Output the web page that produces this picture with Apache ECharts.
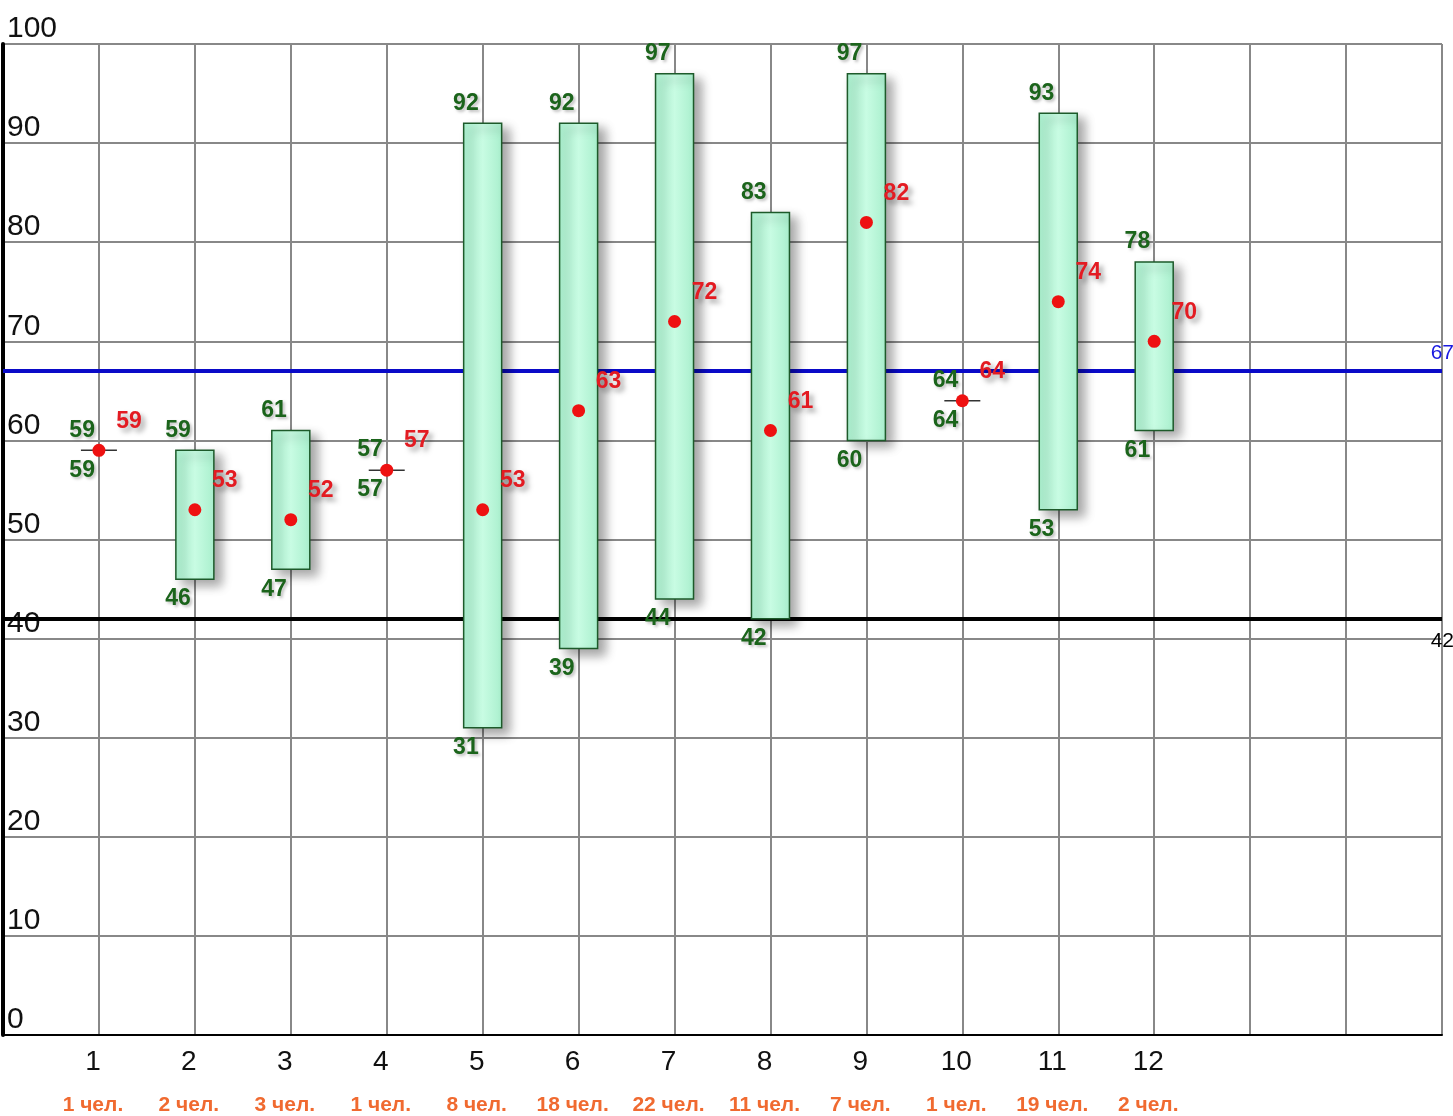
<!DOCTYPE html>
<html>
<head>
<meta charset="utf-8">
<script src="https://cdn.jsdelivr.net/npm/echarts@6/dist/echarts.min.js"></script>
<style>
html,body{margin:0;padding:0;background:#fff;}
#chart{width:1453px;height:1116px;}
</style>
</head>
<body>
<div id="chart"></div>
<script>
// ---- data ----
const categories = [1, 2, 3, 4, 5, 6, 7, 8, 9, 10, 11, 12];
const counts = [1, 2, 3, 1, 8, 18, 22, 11, 7, 1, 19, 2];
const minVals = [59, 46, 47, 57, 31, 39, 44, 42, 60, 64, 53, 61];
const maxVals = [59, 59, 61, 57, 92, 92, 97, 83, 97, 64, 93, 78];
const meanVals = [59, 53, 52, 57, 53, 63, 72, 61, 82, 64, 74, 70];
const upperLine = 67;
const lowerLine = 42;
const countSuffix = ' чел.';

const FONT = '"Liberation Sans", Arial, sans-serif';

const boxData = categories.map((c, i) => [c, minVals[i], maxVals[i], meanVals[i]]);

function renderItem(params, api) {
  const x = api.value(0), lo = api.value(1), hi = api.value(2), mean = api.value(3);
  const pHi = api.coord([x, hi]);
  const pLo = api.coord([x, lo]);
  const pM = api.coord([x, mean]);
  const w = 38;
  const children = [];
  if (hi > lo) {
    children.push({
      type: 'rect',
      shape: { x: pHi[0] - w / 2, y: pHi[1], width: w, height: pLo[1] - pHi[1] },
      style: {
        fill: new echarts.graphic.LinearGradient(0, 0, 1, 0, [
          { offset: 0, color: '#a9efcd' },
          { offset: 0.5, color: '#c8fce3' },
          { offset: 1, color: '#a9efcd' }
        ]),
        stroke: '#1d5a2a',
        lineWidth: 1.5,
        shadowBlur: 10,
        shadowColor: 'rgba(0,0,0,0.35)',
        shadowOffsetX: 7,
        shadowOffsetY: 6
      }
    });
  } else {
    children.push({
      type: 'line',
      shape: { x1: pM[0] - 18, y1: pM[1], x2: pM[0] + 18, y2: pM[1] },
      style: { stroke: '#333', lineWidth: 1.5 }
    });
  }
  children.push({
    type: 'circle',
    shape: { cx: pM[0], cy: pM[1], r: 6.5 },
    style: { fill: '#ee1111' }
  });
  const greenStyle = {
    fill: '#1b641b',
    font: 'bold 23px ' + FONT,
    align: 'right',
    verticalAlign: 'middle',
    textShadowColor: 'rgba(0,0,0,0.25)',
    textShadowBlur: 3,
    textShadowOffsetX: 2,
    textShadowOffsetY: 2
  };
  children.push({
    type: 'text',
    x: pHi[0] - 4,
    y: pHi[1] - 20,
    style: Object.assign({ text: String(hi) }, greenStyle)
  });
  children.push({
    type: 'text',
    x: pLo[0] - 4,
    y: pLo[1] + 20,
    style: Object.assign({ text: String(lo) }, greenStyle)
  });
  children.push({
    type: 'text',
    x: pM[0] + 30,
    y: pM[1] - 29,
    style: {
      text: String(mean),
      fill: '#e31b22',
      font: 'bold 23px ' + FONT,
      align: 'center',
      verticalAlign: 'middle',
      textShadowColor: 'rgba(0,0,0,0.35)',
      textShadowBlur: 5,
      textShadowOffsetX: 4,
      textShadowOffsetY: 4
    }
  });
  return { type: 'group', children: children };
}

const chart = echarts.init(document.getElementById('chart'), null, { renderer: 'canvas' });
chart.setOption({
  animation: false,
  backgroundColor: '#ffffff',
  grid: { left: 3, right: 11, top: 44, bottom: 81, containLabel: false },
  xAxis: {
    type: 'value',
    min: 0,
    max: 15,
    interval: 1,
    axisLine: { show: true, onZero: false, lineStyle: { color: '#000', width: 2 } },
    axisTick: { show: false },
    splitLine: { show: true, lineStyle: { color: '#888888', width: 2 } },
    axisLabel: {
      margin: 7,
      formatter: function (v) {
        const i = categories.indexOf(v);
        if (i < 0) return '';
        return '{n|' + categories[i] + '}\n{c|' + counts[i] + countSuffix + '}';
      },
      rich: {
        n: { fontSize: 28, fontFamily: FONT, color: '#111', lineHeight: 40, padding: [0, 12, 0, 0] },
        c: { fontSize: 21, fontFamily: FONT, fontWeight: 'bold', color: '#f06a30', lineHeight: 46, padding: [0, 12, 0, 0] }
      }
    }
  },
  yAxis: {
    type: 'value',
    min: 0,
    max: 100,
    interval: 10,
    axisLine: { show: true, lineStyle: { color: '#000', width: 4 } },
    axisTick: { show: false },
    splitLine: { show: true, lineStyle: { color: '#888888', width: 2 } },
    axisLabel: {
      inside: true,
      margin: 4,
      align: 'left',
      verticalAlign: 'bottom',
      fontSize: 30,
      fontFamily: FONT,
      color: '#111'
    }
  },
  series: [
    {
      type: 'line',
      data: [],
      z: 2,
      silent: true,
      markLine: {
        symbol: 'none',
        silent: true,
        data: [
          {
            yAxis: upperLine,
            lineStyle: { color: '#0a0ac8', width: 4, type: 'solid' },
            label: { show: true, position: 'insideEndTop', distance: [-12, 7], formatter: String(upperLine), color: '#1a1ae0', fontSize: 21, fontFamily: FONT }
          },
          {
            yAxis: lowerLine,
            lineStyle: { color: '#000', width: 4, type: 'solid' },
            label: { show: true, position: 'insideEndBottom', distance: [-12, 12], formatter: String(lowerLine), color: '#000', fontSize: 21, fontFamily: FONT }
          }
        ]
      }
    },
    {
      type: 'custom',
      z: 5,
      renderItem: renderItem,
      data: boxData,
      clip: false
    }
  ]
});
</script>
</body>
</html>
